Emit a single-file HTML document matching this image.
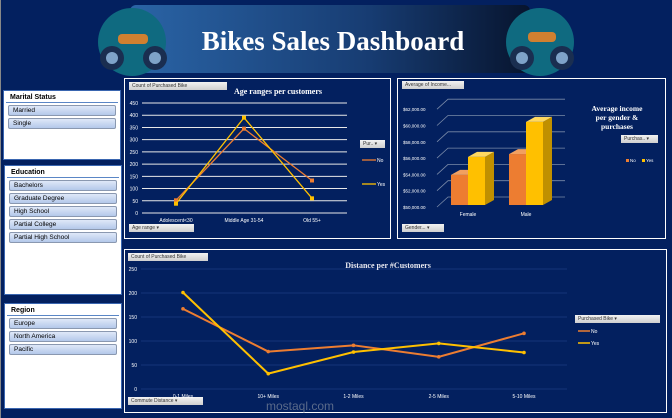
<!DOCTYPE html>
<html><head><meta charset="utf-8"><style>
body{margin:0;width:672px;height:418px;overflow:hidden;background:#03205f;font-family:"Liberation Sans",sans-serif;position:relative}
.abs{position:absolute}
.slicer{position:absolute;background:#fff;border:1px solid #3a66b0;left:3px;width:116px}
.slicer .hd{font:bold 7px "Liberation Sans",sans-serif;color:#000;padding:3px 4px 1px;border-bottom:1px solid #5a86c6;margin:0 2px}
.item{margin:2px 4px 0 4px;height:9px;border:1px solid #8a98b0;border-radius:2px;background:linear-gradient(#dfe8f8,#b4c8ea);font-size:6.5px;line-height:9px;padding-left:4px;color:#000}
.btn{position:absolute;background:linear-gradient(#f2f2f2,#cfcfcf);font-size:5px;color:#333;height:8px;line-height:8px;padding-left:3px;box-sizing:border-box}
.panel{position:absolute;border:1px solid #fff}
</style></head><body>
<div class="abs" style="left:0;top:0;width:1px;height:418px;background:#888"></div>
<svg class="abs" style="left:0;top:0" width="672" height="418">
<defs><linearGradient id="ban" x1="0" x2="1"><stop offset="0" stop-color="#2a64a6"/><stop offset="0.6" stop-color="#173c72"/><stop offset="1" stop-color="#07142e"/></linearGradient></defs>
<g>
<rect x="130" y="5" width="400" height="68" fill="url(#ban)" rx="6"/>
<circle cx="132" cy="42" r="34" fill="#0f6a80"/><circle cx="540" cy="42" r="34" fill="#0f6a80"/>
<g fill="#1a2e50"><circle cx="112" cy="58" r="12"/><circle cx="155" cy="58" r="12"/><circle cx="522" cy="58" r="12"/><circle cx="562" cy="58" r="12"/></g>
<g fill="#7fa3c8"><circle cx="112" cy="58" r="6"/><circle cx="155" cy="58" r="6"/><circle cx="522" cy="58" r="6"/><circle cx="562" cy="58" r="6"/></g>
<rect x="118" y="34" width="30" height="10" fill="#d08030" rx="4"/><rect x="528" y="32" width="28" height="10" fill="#d08030" rx="4"/>
<text x="333" y="50" text-anchor="middle" fill="#fff" font-family="Liberation Serif,serif" font-weight="bold" font-size="27">Bikes Sales Dashboard</text>
</g>
</svg>

<div class="slicer" style="top:90px;height:68px"><div class="hd">Marital Status</div>
<div class="item">Married</div><div class="item">Single</div></div>
<div class="slicer" style="top:165px;height:128px;left:4px"><div class="hd">Education</div>
<div class="item">Bachelors</div><div class="item">Graduate Degree</div><div class="item">High School</div><div class="item">Partial College</div><div class="item">Partial High School</div></div>
<div class="slicer" style="top:303px;height:104px;left:4px"><div class="hd">Region</div>
<div class="item">Europe</div><div class="item">North America</div><div class="item">Pacific</div></div>

<div class="panel" style="left:124px;top:78px;width:265px;height:159px"></div>
<div class="panel" style="left:397px;top:78px;width:267px;height:159px"></div>
<div class="panel" style="left:124px;top:249px;width:541px;height:162px"></div>

<div class="btn" style="left:129px;top:82px;width:98px">Count of Purchased Bike</div>
<div class="btn" style="left:129px;top:224px;width:65px">Age range ▾</div>
<div class="btn" style="left:360px;top:140px;width:25px">Pur.. ▾</div>
<div class="btn" style="left:402px;top:81px;width:62px">Average of Income...</div>
<div class="btn" style="left:402px;top:224px;width:42px">Gender... ▾</div>
<div class="btn" style="left:621px;top:135px;width:37px">Purchas.. ▾</div>
<div class="btn" style="left:128px;top:253px;width:80px">Count of Purchased Bike</div>
<div class="btn" style="left:128px;top:397px;width:75px">Commute Distance ▾</div>
<div class="btn" style="left:575px;top:315px;width:85px">Purchased Bike ▾</div>

<svg id="charts" class="abs" style="left:0;top:0" width="672" height="418"></svg>
<script>
const ageCats=["Adolescent<30","Middle Age 31-54","Old 55+"];
const ageNo=[52,345,133];
const ageYes=[38,390,60];
const ageTicks=[0,50,100,150,200,250,300,350,400,450];
const genderCats=["Female","Male"];
const incomeNo=[53700,56250];
const incomeYes=[55900,60200];
const incomeTicks=[50000,52000,54000,56000,58000,60000,62000];
const distCats=["0-1 Miles","10+ Miles","1-2 Miles","2-5 Miles","5-10 Miles"];
const distNo=[167,78,91,67,116];
const distYes=[201,32,77,95,76];
const distTicks=[0,50,100,150,200,250];
const ORANGE="#ed7d31",YELLOW="#ffc000";
const svg=document.getElementById('charts');
const NS="http://www.w3.org/2000/svg";
function mk(tag,attrs,name,parent){const e=document.createElementNS(NS,tag);for(const k in attrs)e.setAttribute(k,attrs[k]);


(parent||svg).appendChild(e);return e;}
function txt(x,y,s,size,fill,anchor,name,extra){const t=mk('text',Object.assign({x:x,y:y,'font-size':size,fill:fill,'text-anchor':anchor||'start'},extra||{}),name);t.textContent=s;return t;}

// Age chart
(function(){
const y0=213,y1=103,xl=142,xr=347,vmax=450;
const ys=v=>y0-(v/vmax)*(y0-y1);
const xs=i=>176+i*(312-176)/(ageCats.length-1);
ageTicks.forEach(t=>{mk('line',{x1:xl,x2:xr,y1:ys(t),y2:ys(t),stroke:'#e8e8e8','stroke-width':1},'age-gridline');
txt(138,ys(t)+2,t,5,'#fff','end','age-y-tick');});
ageCats.forEach((c,i)=>txt(xs(i),222,c,5,'#fff','middle','age-x-label'));
[[ageNo,ORANGE,'no'],[ageYes,YELLOW,'yes']].forEach(([d,col,n])=>{
mk('polyline',{points:d.map((v,i)=>xs(i)+','+ys(v)).join(' '),fill:'none',stroke:col,'stroke-width':1.3},'age-line-'+n);
d.forEach((v,i)=>mk('rect',{x:xs(i)-2,y:ys(v)-2,width:4,height:4,fill:col},'age-point-'+n));});
txt(278,94,'Age ranges per customers',8,'#fff','middle','age-chart-title',{'font-family':'Liberation Serif,serif','font-weight':'bold'});
mk('line',{x1:362,x2:376,y1:160,y2:160,stroke:ORANGE,'stroke-width':1.3},'age-legend-no');txt(377,162,'No',5,'#fff','start','age-legend-no-label');
mk('line',{x1:362,x2:376,y1:184,y2:184,stroke:YELLOW,'stroke-width':1.3},'age-legend-yes');txt(377,186,'Yes',5,'#fff','start','age-legend-yes-label');
})();

// Income chart
(function(){
const y0=205,per=16.3/2000;
const ys=v=>y0-(v-50000)*per;
incomeTicks.forEach(t=>{const y=ys(t);
mk('polyline',{points:(437)+','+(y+2)+' '+(448)+','+(y-8)+' '+565+','+(y-8),fill:'none',stroke:'#7a8aa8','stroke-width':0.8},'income-gridline');
txt(403,y+4,'$'+t.toLocaleString('en-US')+'.00',4.5,'#fff','start','income-y-tick');});
const bx=[451,509],bw=17,dx=9,dy=5;
genderCats.forEach((g,i)=>{
[[incomeNo[i],ORANGE,'#c86020','#f2a060',0,'no'],[incomeYes[i],YELLOW,'#c09000','#ffd860',1,'yes']].forEach(([v,f,side,top,k,n])=>{
const x=bx[i]+k*bw,y=ys(v);
mk('rect',{x:x,y:y,width:bw,height:y0-y,fill:f},'income-bar-'+n+'-'+g.toLowerCase());
mk('polygon',{points:`${x+bw},${y} ${x+bw+dx},${y-dy} ${x+bw+dx},${y0-dy} ${x+bw},${y0}`,fill:side},'income-bar-side');
mk('polygon',{points:`${x},${y} ${x+dx},${y-dy} ${x+bw+dx},${y-dy} ${x+bw},${y}`,fill:top},'income-bar-top');});
txt(bx[i]+bw,216,g,5,'#fff','middle','income-x-label');});
['Average income','per gender &','purchases'].forEach((s,i)=>txt(617,111+i*9,s,7.5,'#fff','middle','income-chart-title',{'font-family':'Liberation Serif,serif','font-weight':'bold'}));
mk('rect',{x:626,y:159,width:3,height:3,fill:ORANGE},'income-legend-no');txt(630,162,'No',4.5,'#fff','start','income-legend-no-label');
mk('rect',{x:642,y:159,width:3,height:3,fill:YELLOW},'income-legend-yes');txt(646,162,'Yes',4.5,'#fff','start','income-legend-yes-label');
})();

// Distance chart
(function(){
const y0=389,y1=269,vmax=250;
const ys=v=>y0-(v/vmax)*(y0-y1);
const xs=i=>183+i*(524-183)/(distCats.length-1);
distTicks.forEach(t=>{mk('line',{x1:141,x2:567,y1:ys(t),y2:ys(t),stroke:'#1c3a80','stroke-width':0.8},'distance-gridline');
txt(137,ys(t)+2,t,5,'#fff','end','distance-y-tick');});
distCats.forEach((c,i)=>txt(xs(i),398,c,5,'#fff','middle','distance-x-label'));
[[distNo,ORANGE,'no'],[distYes,YELLOW,'yes']].forEach(([d,col,n])=>{
mk('polyline',{points:d.map((v,i)=>xs(i)+','+ys(v)).join(' '),fill:'none',stroke:col,'stroke-width':2},'distance-line-'+n);
d.forEach((v,i)=>mk('circle',{cx:xs(i),cy:ys(v),r:1.8,fill:col},'distance-point-'+n));});
txt(388,268,'Distance per #Customers',8,'#e8e8f0','middle','distance-chart-title',{'font-family':'Liberation Serif,serif','font-weight':'bold'});
mk('line',{x1:578,x2:590,y1:331,y2:331,stroke:ORANGE,'stroke-width':1.5},'distance-legend-no');txt(591,333,'No',5,'#fff','start','distance-legend-no-label');
mk('line',{x1:578,x2:590,y1:343,y2:343,stroke:YELLOW,'stroke-width':1.5},'distance-legend-yes');txt(591,345,'Yes',5,'#fff','start','distance-legend-yes-label');
txt(300,410,'mostaql.com',12,'#5a6a8a','middle','watermark');
})();
</script>
</body></html>
